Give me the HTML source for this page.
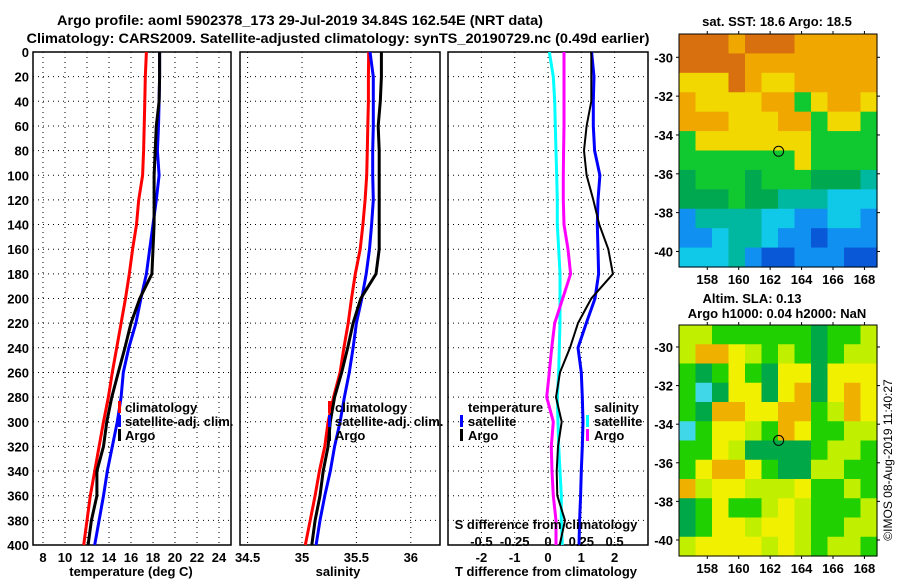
<!DOCTYPE html>
<html><head><meta charset="utf-8"><style>
html,body{margin:0;padding:0;background:#fff;}
svg{display:block;font-family:"Liberation Sans",sans-serif;font-weight:bold;}
</style></head><body>
<svg id="fig" width="900" height="580" viewBox="0 0 900 580" xmlns="http://www.w3.org/2000/svg">
<rect width="900" height="580" fill="#fff"/>
<text x="300" y="25" font-size="14" text-anchor="middle" textLength="486" lengthAdjust="spacingAndGlyphs">Argo profile: aoml 5902378_173 29-Jul-2019 34.84S 162.54E (NRT data)</text>
<text x="338" y="43" font-size="14" text-anchor="middle" textLength="623" lengthAdjust="spacingAndGlyphs">Climatology: CARS2009. Satellite-adjusted climatology: synTS_20190729.nc (0.49d earlier)</text>
<g id="plots"></g>
<g id="maps"></g>
<text transform="translate(892,460) rotate(-90)" font-size="12" font-weight="normal" text-anchor="middle">©IMOS 08-Aug-2019 11:40:27</text>
</svg>
<script>
const depths=[0,20,40,60,80,100,120,140,160,180,200,220,240,260,280,300,320,340,360,380,400];
const tClim=[17.4,17.3,17.25,17.2,17.15,17.05,16.7,16.5,16.15,15.85,15.5,15.1,14.7,14.3,13.95,13.5,13.1,12.7,12.3,12.0,11.7];
const tSat=[18.6,18.6,18.55,18.5,18.4,18.55,18.3,18.0,17.7,17.4,16.9,16.45,15.8,15.3,15.1,14.75,14.3,13.85,13.5,13.1,12.7];
const tArgo=[18.6,18.6,18.55,18.3,18.2,18.1,18.1,18.1,18.0,17.9,16.8,16.0,15.45,14.85,14.25,13.8,13.5,12.9,12.9,12.4,12.1];
const sClim=[35.613,35.61,35.61,35.605,35.6,35.595,35.58,35.56,35.535,35.49,35.455,35.425,35.385,35.35,35.29,35.24,35.21,35.16,35.12,35.075,35.03];
const sSat=[35.625,35.655,35.655,35.655,35.65,35.65,35.655,35.64,35.62,35.59,35.55,35.50,35.47,35.435,35.39,35.35,35.30,35.26,35.21,35.165,35.13];
const sArgo=[35.73,35.73,35.72,35.70,35.71,35.71,35.71,35.71,35.71,35.68,35.54,35.47,35.42,35.365,35.30,35.26,35.24,35.195,35.165,35.12,35.09];
const dTSat=[1.31,1.38,1.36,1.36,1.40,1.56,1.50,1.48,1.50,1.52,1.41,1.15,0.9,1.0,1.03,1.05,1.03,1.0,0.98,0.95,0.93];
const dTArgo=[1.3,1.3,1.3,1.16,1.08,1.16,1.36,1.54,1.81,1.95,1.3,0.9,0.66,0.36,0.24,0.41,0.3,0.26,0.28,0.51,0.35];
const dSSat=[0.01,0.04,0.05,0.055,0.06,0.065,0.07,0.07,0.08,0.09,0.09,0.09,0.085,0.08,0.07,0.075,0.08,0.09,0.1,0.1,0.107];
const dSArgo=[0.12,0.12,0.12,0.12,0.117,0.115,0.115,0.12,0.15,0.17,0.11,0.05,0.028,0.01,-0.01,0.04,0.025,0.03,0.04,0.06,0.06];
const depthTicks=[0,20,40,60,80,100,120,140,160,180,200,220,240,260,280,300,320,340,360,380,400];
const tTicks=[8,10,12,14,16,18,20,22,24];
const sTicks=[34.5,35,35.5,36];
const sTickLabels=["34.5","35","35.5","36"];
const dTTicks=[-2,-1,0,1,2];
const dSTicks=[-0.5,-0.25,0,0.25,0.5];
const dSTickLabels=["-0.5","-0.25","0","0.25","0.5"];

const NS="http://www.w3.org/2000/svg";
function mk(tag,attrs,parent){const e=document.createElementNS(NS,tag);for(const k in attrs)e.setAttribute(k,attrs[k]);parent.appendChild(e);return e;}
const plots=document.getElementById('plots');
const Y0=52,Y1=545;
const yD=d=>Y0+d*(Y1-Y0)/400;
const xT=v=>43+(v-8)*11;
const xS=v=>302+(v-35)*108.8;
const xDT=v=>548+v*33.3;
const xDS=v=>548+v*133.2;

function panel(name,x0,x1,gridXs){
  const g=mk('g',{},plots);
  
  
  depthTicks.forEach(d=>{if(d>0&&d<400){const l=mk('line',{x1:x0,x2:x1,y1:yD(d),y2:yD(d),stroke:'#000','stroke-width':1,'stroke-dasharray':'1,4'},g);
    }});
  gridXs.forEach(x=>{const l=mk('line',{x1:x,x2:x,y1:Y0,y2:Y1,stroke:'#000','stroke-width':1,'stroke-dasharray':'1,4'},g);
    });
  const r=mk('rect',{x:x0,y:Y0,width:x1-x0,height:Y1-Y0,fill:'none',stroke:'#000','stroke-width':1.5},g);
  
  return g;
}
function series(g,name,vals,fx,color,w){
  const pts=vals.map((v,i)=>fx(v).toFixed(1)+','+yD(depths[i]).toFixed(1)).join(' ');
  const p=mk('polyline',{points:pts,fill:'none',stroke:color,'stroke-width':w,'stroke-linejoin':'miter'},g);
  
  
}
function text(g,name,x,y,s,size,anchor){
  const t=mk('text',{x:x,y:y,'font-size':size,'text-anchor':anchor||'start'},g);t.textContent=s;
  
  
  return t;
}
function marker(g,name,x,y,color){
  const r=mk('rect',{x:x,y:y-11,width:3,height:12,fill:color},g);
  
  
}
// depth tick labels
const ylab=mk('g',{},plots);


depthTicks.forEach(d=>text(ylab,'depth-tick-label',29,yD(d)+5,String(d),13,'end'));

// Panel 1 temperature
const p1=panel('temperature-panel',33,231,tTicks.map(xT));
series(p1,'temp-climatology-line',tClim,xT,'#ff0000',3);
series(p1,'temp-satellite-line',tSat,xT,'#0000ff',3);
series(p1,'temp-argo-line',tArgo,xT,'#000000',3);
tTicks.forEach(t=>text(p1,'temp-tick-label',xT(t),562,String(t),13,'middle'));
text(p1,'temp-axis-title',131,576,'temperature (deg C)',13,'middle');
marker(p1,'legend-clim-marker',118,412,'#ff0000');text(p1,'legend-clim',125,412,'climatology',13);
marker(p1,'legend-sat-marker',118,426,'#0000ff');text(p1,'legend-sat',125,426,'satellite-adj. clim.',13);
marker(p1,'legend-argo-marker',118,440,'#000');text(p1,'legend-argo',125,440,'Argo',13);

// Panel 2 salinity
const p2=panel('salinity-panel',240,440,sTicks.map(xS));
series(p2,'sal-climatology-line',sClim,xS,'#ff0000',3);
series(p2,'sal-satellite-line',sSat,xS,'#0000ff',3);
series(p2,'sal-argo-line',sArgo,xS,'#000000',3);
sTicks.forEach((s,i)=>text(p2,'sal-tick-label',xS(s),562,sTickLabels[i],13,'middle'));
text(p2,'sal-axis-title',338,576,'salinity',13,'middle');
marker(p2,'legend-clim-marker',328,412,'#ff0000');text(p2,'legend-clim',335,412,'climatology',13);
marker(p2,'legend-sat-marker',328,426,'#0000ff');text(p2,'legend-sat',335,426,'satellite-adj. clim.',13);
marker(p2,'legend-argo-marker',328,440,'#000');text(p2,'legend-argo',335,440,'Argo',13);

// Panel 3 differences
const p3=panel('difference-panel',448,648,dTTicks.map(xDT));
series(p3,'sdiff-satellite-line',dSSat,xDS,'#00ffff',3);
series(p3,'sdiff-argo-line',dSArgo,xDS,'#ff00ff',3);
series(p3,'tdiff-satellite-line',dTSat,xDT,'#0000ff',3);
series(p3,'tdiff-argo-line',dTArgo,xDT,'#000000',2);
dTTicks.forEach(t=>text(p3,'tdiff-tick-label',xDT(t),562,String(t),13,'middle'));
dSTicks.forEach((s,i)=>text(p3,'sdiff-tick-label',xDS(s),546,dSTickLabels[i],13,'middle'));
text(p3,'sdiff-axis-title',546,529,'S difference from climatology',13,'middle');
text(p3,'tdiff-axis-title',546,576,'T difference from climatology',13,'middle');
text(p3,'legend-temperature-header',468,412,'temperature',13);
marker(p3,'legend-tsat-marker',460,426,'#0000ff');text(p3,'legend-tsat',468,426,'satellite',13);
marker(p3,'legend-targo-marker',460,440,'#000');text(p3,'legend-targo',468,440,'Argo',13);
text(p3,'legend-salinity-header',594,412,'salinity',13);
marker(p3,'legend-ssat-marker',586,426,'#00ffff');text(p3,'legend-ssat',594,426,'satellite',13);
marker(p3,'legend-sargo-marker',586,440,'#ff00ff');text(p3,'legend-sargo',594,440,'Argo',13);

// Maps
const sstRows=["DDDODDDOOOOO","DDDDOOOOOOOO","YYYDOYYOOOOO","OYYYYOOGYOOY","OOOYYYOOGYYG","GYYYYYYYGGGG","GGGGGGGYGGGG","gGGGgGGGgggT","gggGggTTTCCC","BTTTTCCBBCCB","BBCTTCBBbBBB","CCCTBbbBBBbb"];
const slaRows=["yyGGGGGGgGGy","yOOYyGyGgGyy","GgGYGgYYgYYY","GCgYYgYOgYOY","GgOOYYOOGyOY","CGYYyGOYGGyy","GGYyggggGyyG","GYOOYGggyyGG","OyYYyyyYGGyG","gGYGGyYyGGGy","gGYYyYYyGGyy","yYYYYyYyGyyG"];
const lonTicks=[158,160,162,164,166,168];
const latTicks=[-30,-32,-34,-36,-38,-40];
const argoLon=162.54, argoLat=-34.84;
const pal={D:'#d87010',O:'#f0a800',Y:'#f0d800',y:'#c8f000',G:'#10c830',g:'#00a850',T:'#00b8a0',C:'#10c8e8',B:'#1090f0',b:'#0858d8'};
const pal2={G:'#20d000',g:'#00a848',y:'#c0f000',Y:'#f0f000',O:'#f0b000',C:'#40d8e8'};
const maps=document.getElementById('maps');
function drawMap(name,top,bot,rows,palette,latTop,latBot){
  const L=679,R=877,lon0=156.2,lon1=168.8;
  const g=mk('g',{},maps);
  
  
  const nr=rows.length,nc=rows[0].length,cw=(R-L)/nc,ch=(bot-top)/nr;
  rows.forEach((row,i)=>{[...row].forEach((c,j)=>{
    const r=mk('rect',{x:(L+j*cw).toFixed(2),y:(top+i*ch).toFixed(2),width:(cw+0.6).toFixed(2),height:(ch+0.6).toFixed(2),fill:palette[c]},g);
    
    
  });});
  const fx=lon=>L+(lon-lon0)*(R-L)/(lon1-lon0);
  const fy=lat=>top+(lat-latTop)*(bot-top)/(latBot-latTop);
  const fr=mk('rect',{x:L,y:top,width:R-L,height:bot-top,fill:'none',stroke:'#000','stroke-width':1},g);
  
  lonTicks.forEach(l=>{mk('line',{x1:fx(l),x2:fx(l),y1:top,y2:top-3,stroke:'#000'},g);mk('line',{x1:fx(l),x2:fx(l),y1:bot,y2:bot+3,stroke:'#000'},g);
    text(g,'lon-tick-label',fx(l),bot+17,String(l),13,'middle');});
  latTicks.forEach(l=>{mk('line',{x1:L,x2:L-3,y1:fy(l),y2:fy(l),stroke:'#000'},g);mk('line',{x1:R,x2:R+3,y1:fy(l),y2:fy(l),stroke:'#000'},g);
    text(g,'lat-tick-label',673,fy(l)+5,String(l),13,'end');});
  const c=mk('circle',{cx:fx(argoLon),cy:fy(argoLat),r:5,fill:'none',stroke:'#000','stroke-width':1},g);
  
  
  return g;
}
const m1=drawMap('sst-map',34,267,sstRows,pal,-28.8,-40.8);
text(m1,'sst-map-title',777,26,'sat. SST: 18.6 Argo: 18.5',13,'middle');
const m2=drawMap('sla-map',325,556,slaRows,pal2,-28.86,-40.83);
text(m2,'sla-map-title',752,303,'Altim. SLA: 0.13',13,'middle');
text(m2,'sla-map-subtitle',777,318,'Argo h1000: 0.04 h2000: NaN',13,'middle');
</script>
</body></html>
